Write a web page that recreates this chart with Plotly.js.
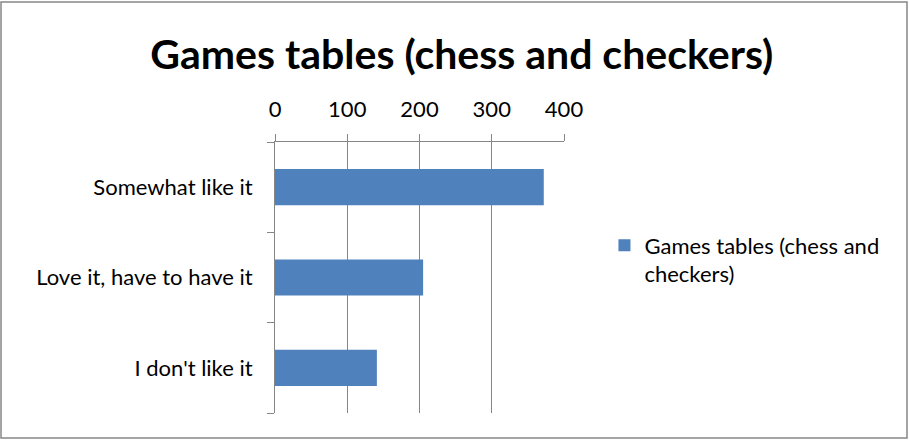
<!DOCTYPE html>
<html>
<head>
<meta charset="utf-8">
<script src="https://cdn.plot.ly/plotly-3.0.1.min.js"></script>
<style>html,body{margin:0;padding:0;background:#fff;}#chart{width:909px;height:440px;}</style>
</head>
<body>
<div id="chart"></div>
<script>
// Data (bottom to top as drawn)
const categories = ["I don't like it", "Love it, have to have it", "Somewhat like it"];
const values = [141, 205, 372];
const seriesName = "Games tables (chess and<br>checkers)";
const chartTitle = "Games tables (chess and checkers)";
const xTicks = [0, 100, 200, 300, 400];

const font = "Lato, 'Open Sans', 'Liberation Sans', sans-serif";
const gray = "#868686";

const trace = {
  type: "bar",
  orientation: "h",
  y: categories,
  x: values,
  name: seriesName,
  marker: {color: "#4F81BD"},
  showlegend: true,
  hoverinfo: "x+y"
};

const layout = {
  width: 909,
  height: 440,
  margin: {l: 275, r: 345, t: 142, b: 27},
  paper_bgcolor: "#fff",
  plot_bgcolor: "#fff",
  font: {family: font, color: "#000", size: 22},
  title: {
    text: "<b>" + chartTitle + "</b>",
    font: {family: font, size: 41, color: "#000"},
    x: 0.508, xanchor: "center",
    y: 0.875, yanchor: "middle", yref: "container"
  },
  bargap: 0.6,
  xaxis: {
    side: "top",
    range: [0, 400],
    tickvals: xTicks,
    ticktext: xTicks.map(String),
    showgrid: true,
    gridcolor: gray,
    gridwidth: 1,
    showline: true,
    linecolor: gray,
    linewidth: 1,
    ticks: "outside",
    ticklen: 7,
    tickcolor: gray,
    ticklabelstandoff: 8,
    zeroline: false,
    tickfont: {size: 22, family: font, color: "#000"},
    fixedrange: true
  },
  yaxis: {
    type: "category",
    showgrid: false,
    showline: true,
    linecolor: gray,
    linewidth: 1,
    ticks: "outside",
    tickson: "boundaries",
    ticklen: 7,
    tickcolor: gray,
    ticklabelstandoff: 17,
    zeroline: false,
    tickfont: {size: 22, family: font, color: "#000"},
    fixedrange: true
  },
  legend: {
    x: 1.14, xanchor: "left",
    y: 0.565, yanchor: "middle",
    valign: "top",
    font: {size: 22, family: font, color: "#000"},
    bgcolor: "rgba(0,0,0,0)",
    itemwidth: 30
  },
  shapes: [{
    type: "rect", xref: "paper", yref: "paper",
    x0: -275/289 + 1/289, x1: 1 + 343/289,
    y0: -25/271, y1: 1 + 140/271,
    line: {color: gray, width: 1.5},
    fillcolor: "rgba(0,0,0,0)",
    layer: "below"
  }]
};

Plotly.newPlot("chart", [trace], layout, {displayModeBar: false, staticPlot: true});
</script>
</body>
</html>
